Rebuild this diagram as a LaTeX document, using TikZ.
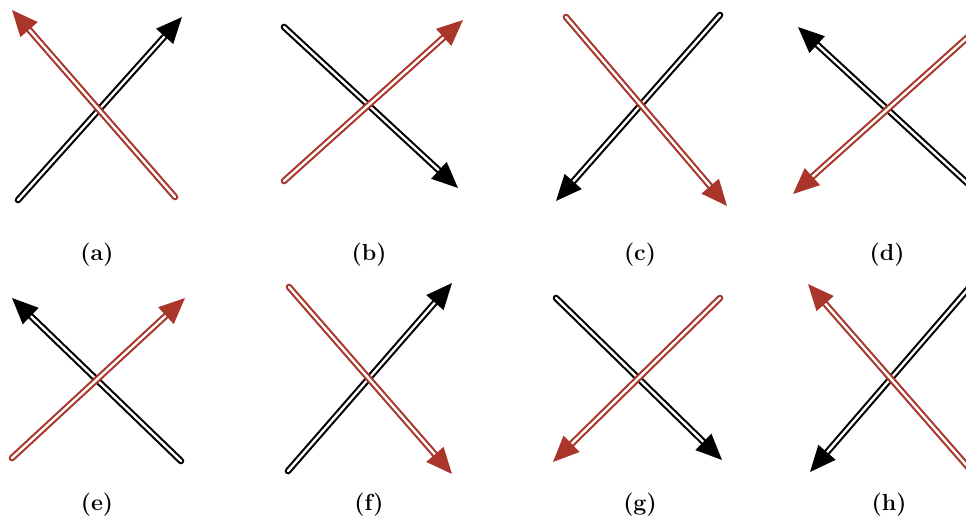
\documentclass[tikz,border=0pt]{standalone}
\usetikzlibrary{arrows.meta}
\definecolor{Rust}{HTML}{A9352B}
\tikzset{
  strand/.style={
    double=white, line width=1.5pt, double distance=1.7pt,
    line cap=round, -{Triangle[length=6.5mm,width=5.6mm]}
  },
  caption/.style={font=\fontsize{16.5}{20}\selectfont\bfseries}
}
\begin{document}
\begin{tikzpicture}[x=0.25mm,y=-0.25mm]
  \clip (0,0) rectangle (966,523);
  \foreach \p/\ka/\kb/\ra/\rb/\lx/\ly in {
      a/{18,200}/{182,17}/{175,197}/{12,10}/97/255,
      b/{284,27}/{458,188}/{284,181}/{463,20}/369/255,
      c/{720,15}/{556,201}/{566,17}/{727,206}/640/255,
      d/{978,193}/{798,27}/{978,28}/{793,194}/887/255,
      e/{181,461}/{12,298}/{12,458}/{185,298}/97/505,
      f/{288,471}/{452,283}/{289,287}/{452,474}/369/505,
      g/{556,298}/{722,460}/{720,298}/{553,462}/640/505,
      h/{975,281}/{810,472}/{975,475}/{808,284}/889/505}
  {
    \coordinate (k\p1) at (\ka);
    \coordinate (k\p2) at (\kb);
    \coordinate (r\p1) at (\ra);
    \coordinate (r\p2) at (\rb);
    \draw[strand,draw=black,fill=black] (k\p1) -- (k\p2);
    \draw[strand,draw=Rust,fill=Rust] (r\p1) -- (r\p2);
    \node[caption] (cap\p) at (\lx,\ly) {(\p)};
  }
\end{tikzpicture}
\end{document}
